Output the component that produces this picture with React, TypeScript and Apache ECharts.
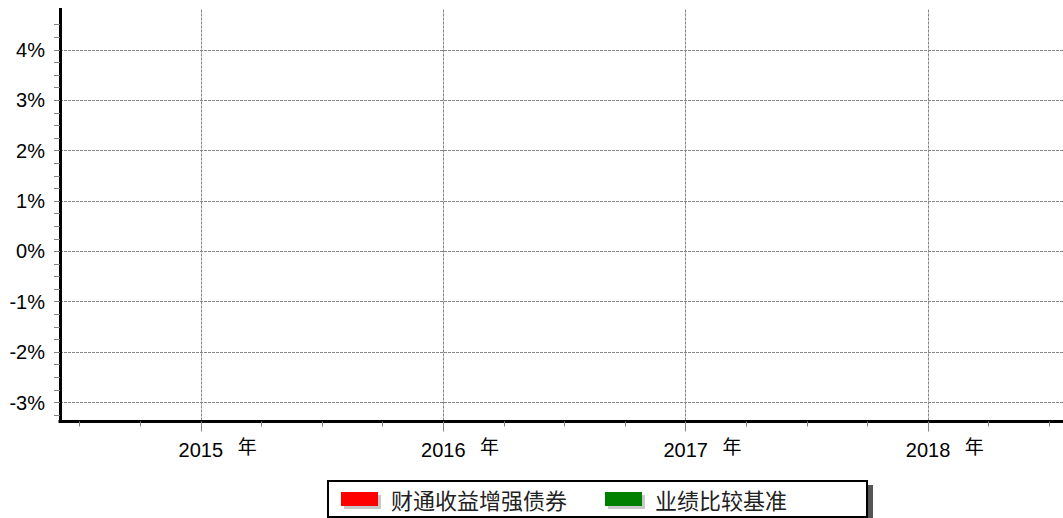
import React, { useEffect, useRef } from 'react';
import * as echarts from 'echarts';

// ---- data ----
const years = [2015, 2016, 2017, 2018];
const yearSuffix = '年';
const fundName = '财通收益增强债券';
const benchmarkName = '业绩比较基准';
// the reference shows no bars: every value is empty
const fundReturns: (number | null)[] = [null, null, null, null];
const benchmarkReturns: (number | null)[] = [null, null, null, null];
const yTickValues = [-3, -2, -1, 0, 1, 2, 3, 4];
const yMinorTickValues = [
  -3.25, -2.75, -2.5, -2.25, -1.75, -1.5, -1.25, -0.75, -0.5, -0.25,
  0.25, 0.5, 0.75, 1.25, 1.5, 1.75, 2.25, 2.5, 2.75, 3.25, 3.5, 3.75, 4.25, 4.5,
];
const xMinorTickValues = [
  2014.5, 2014.75, 2015.25, 2015.5, 2015.75, 2016.25, 2016.5, 2016.75,
  2017.25, 2017.5, 2017.75, 2018.25, 2018.5,
];
const xMin = 2014.4187;
const xMax = 2018.5566;
const yMin = -3.377;
const yMax = 4.8;

const GRAY = '#858585';

export default function App() {
  const ref = useRef<HTMLDivElement>(null);
  useEffect(() => {
    if (!ref.current) return;
    const chart = echarts.init(ref.current, undefined, { renderer: 'svg' });
    const option: any = {
      animation: false,
      backgroundColor: '#ffffff',
      grid: { left: 60, right: 0, top: 9.5, bottom: 96.5, containLabel: false },
      xAxis: [
        {
          type: 'value',
          min: xMin,
          max: xMax,
          position: 'bottom',
          axisLine: { show: true, onZero: false, lineStyle: { color: '#000', width: 3, cap: 'square' } },
          axisTick: { show: true, customValues: years, length: 10, lineStyle: { color: GRAY, width: 1 } },
          axisLabel: {
            show: true,
            customValues: years,
            margin: 14,
            formatter: (v: number) => `{s| }{n|${v} }{y|${yearSuffix}}`,
            rich: {
              s: { width: 33.5, fontSize: 20, lineHeight: 24 },
              n: { fontSize: 20, fontFamily: '"Liberation Sans", Arial, sans-serif', color: '#000', lineHeight: 24, verticalAlign: 'bottom' },
              y: { width: 28, align: 'right', fontSize: 19, fontFamily: '"Noto Sans CJK SC", sans-serif', color: '#000', lineHeight: 20, verticalAlign: 'top' },
            },
          },
          splitLine: { show: true, lineStyle: { color: GRAY, width: 1, type: [3, 1] } },
        },
        {
          type: 'value',
          min: xMin,
          max: xMax,
          position: 'bottom',
          axisLine: { show: false, onZero: false },
          axisTick: { show: true, customValues: xMinorTickValues, length: 5, lineStyle: { color: GRAY, width: 1 } },
          axisLabel: { show: false },
          splitLine: { show: false },
        },
      ],
      yAxis: [
        {
          type: 'value',
          min: yMin,
          max: yMax,
          position: 'left',
          axisLine: { show: true, onZero: false, lineStyle: { color: '#000', width: 3, cap: 'square' } },
          axisTick: { show: true, customValues: yTickValues, length: 6, lineStyle: { color: GRAY, width: 1 } },
          axisLabel: {
            show: true,
            customValues: yTickValues,
            margin: 15,
            fontSize: 20,
            fontFamily: '"Liberation Sans", Arial, sans-serif',
            color: '#000',
            formatter: (v: number) => `${v}%`,
          },
          splitLine: { show: true, lineStyle: { color: GRAY, width: 1, type: [3, 1] } },
        },
        {
          type: 'value',
          min: yMin,
          max: yMax,
          position: 'left',
          axisLine: { show: false, onZero: false },
          axisTick: { show: true, customValues: yMinorTickValues, length: 6, lineStyle: { color: GRAY, width: 1 } },
          axisLabel: { show: false },
          splitLine: { show: false },
        },
      ],
      legend: {
        left: 328,
        top: 481,
        orient: 'horizontal',
        padding: [7, 80, 7, 13],
        itemGap: 38,
        itemWidth: 37,
        itemHeight: 14,
        icon: 'rect',
        backgroundColor: '#fff',
        borderColor: '#000',
        borderWidth: 2,
        shadowColor: '#555',
        shadowOffsetX: 5,
        shadowOffsetY: 5,
        shadowBlur: 1,
        itemStyle: { shadowColor: '#c8c8c8', shadowOffsetX: 3, shadowOffsetY: 3, shadowBlur: 1 },
        textStyle: {
          fontSize: 22,
          fontFamily: '"Noto Sans CJK SC", sans-serif',
          color: '#222',
          padding: [0, 0, 0, 8],
        },
        data: [fundName, benchmarkName],
      },
      series: [
        {
          name: fundName,
          type: 'bar',
          xAxisIndex: 0,
          yAxisIndex: 0,
          itemStyle: { color: '#ff0000' },
          data: years.map((y, i) => [y, fundReturns[i]]),
        },
        {
          name: benchmarkName,
          type: 'bar',
          xAxisIndex: 0,
          yAxisIndex: 0,
          itemStyle: { color: '#008000' },
          data: years.map((y, i) => [y, benchmarkReturns[i]]),
        },
      ],
    };
    chart.setOption(option);
    return () => chart.dispose();
  }, []);
  return (
    <div
      ref={ref}
      style={{ position: 'fixed', left: 0, top: 0, width: 1063, height: 518, background: '#fff' }}
    />
  );
}
